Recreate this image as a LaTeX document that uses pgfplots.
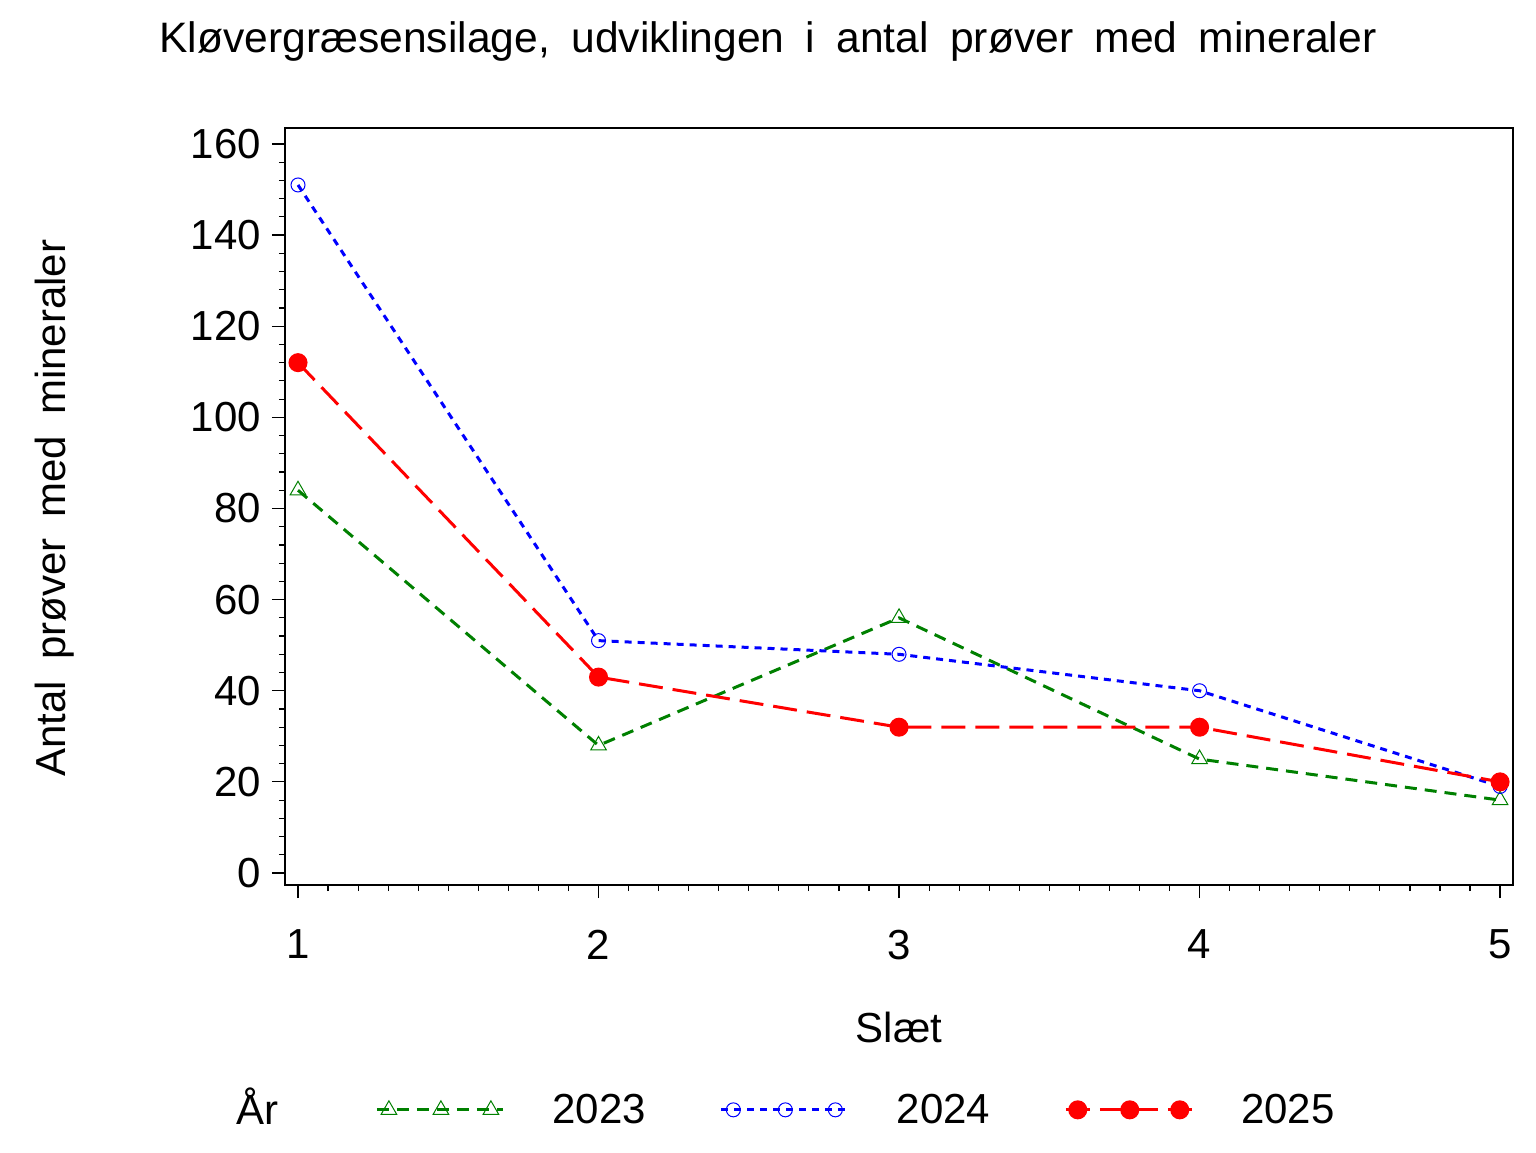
\documentclass[border=0pt]{standalone}
\usepackage{fontspec}
\setmainfont{Liberation Sans}
\usepackage{pgfplots}
\pgfplotsset{compat=1.18}
\definecolor{sasgreen}{RGB}{0,128,0}
\newcommand{\bigfont}{\fontsize{21}{25}\selectfont}
\newcommand{\widesp}{\spaceskip=0.5em plus 0.1em\relax}
\begin{document}
\begin{tikzpicture}
\useasboundingbox (-142.5pt,-133.5pt) rectangle (625.5pt,442.5pt);
\begin{axis}[
  scale only axis,
  width=614pt, height=378.5pt,
  xmin=0.9567, xmax=5.043,
  ymin=-2.63, ymax=163.5,
  xtick={1,2,3,4,5},
  ytick={0,20,...,160},
  minor x tick num=9,
  minor y tick num=4,
  xtick pos=lower, ytick pos=left,
  tick align=outside,
  major tick length=6.5pt,
  minor tick length=3pt,
  axis line style={line width=0.75pt},
  every tick/.style={black, line width=0.6pt},
  /pgf/number format/assume math mode=true,
  tick label style={font=\bigfont},
  xticklabel style={yshift=-12.5pt},
  yticklabel style={xshift=-2pt},
  title={\widesp Kløvergræsensilage, udviklingen i antal prøver med mineraler},
  title style={font=\fontsize{21.3}{25}\selectfont,
    at={(axis description cs:0.3933,1.098)}, anchor=center},
  xlabel={Slæt},
  xlabel style={font=\bigfont, at={(axis description cs:0.5,-0.1876)}, anchor=center},
  ylabel={\widesp Antal prøver med mineraler},
  ylabel style={font=\bigfont, at={(axis description cs:-0.1873,0.498)}, anchor=center},
  legend columns=-1,
  legend style={draw=none, fill=none, inner sep=0pt,
    at={(axis description cs:0.0733,-0.297)}, anchor=west,
    font=\bigfont,
    /tikz/every odd column/.append style={column sep=22pt},
    /tikz/every even column/.append style={column sep=35pt}},
  legend image code/.code={
    \draw[#1, mark=none] (0pt,0pt) -- (63pt,0pt);
    \draw[#1] plot[only marks] coordinates {(6pt,0pt) (32pt,0pt) (57pt,0pt)};
  },
  clip=false,
]
\addplot[sasgreen, line width=1.5pt, dash pattern=on 6pt off 4pt,
  mark=triangle, mark size=4.5pt, mark options={solid, line width=0.5pt}]
  coordinates {(1,84) (2,28) (3,56) (4,25) (5,16)};
\addlegendentry{2023}
\addplot[blue, line width=1.5pt, dash pattern=on 3.5pt off 3pt,
  mark=o, mark size=3.5pt, mark options={solid, line width=0.5pt}]
  coordinates {(1,151) (2,51) (3,48) (4,40) (5,19)};
\addlegendentry{2024}
\addplot[red, line width=1.5pt, dash pattern=on 12pt off 5pt,
  mark=*, mark size=4pt, mark options={solid, fill=red}]
  coordinates {(1,112) (2,43) (3,32) (4,32) (5,20)};
\addlegendentry{2025}
\node[font=\bigfont, anchor=center] at (axis description cs:-0.0228,-0.292) {År};
\end{axis}
\end{tikzpicture}
\end{document}
